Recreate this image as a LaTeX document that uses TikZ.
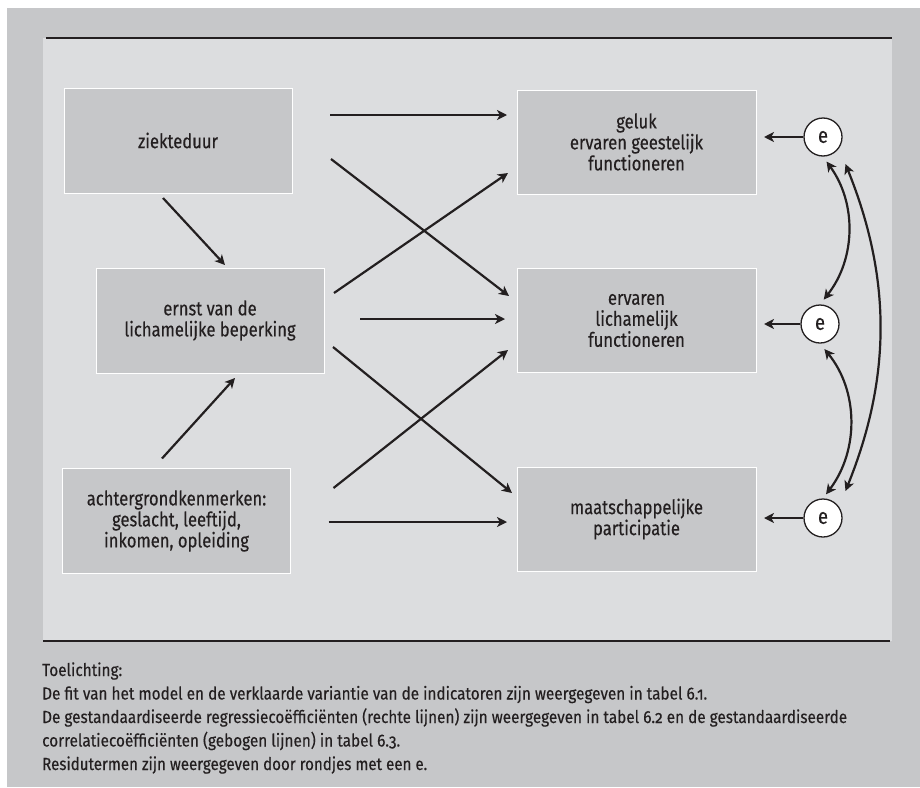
\documentclass[tikz,border=0pt]{standalone}
\usepackage{fontspec}
\usepackage{graphicx}
\setmainfont{Fira Sans}[FakeStretch=0.83,FakeBold=0.3,Numbers=OldStyle]
\usetikzlibrary{arrows.meta,calc}
\definecolor{outergray}{RGB}{198,199,201}
\definecolor{innergray}{RGB}{220,221,223}
\definecolor{boxgray}{RGB}{198,199,201}
\definecolor{ink}{RGB}{35,31,32}
\newcommand{\capline}[2]{\resizebox{#1pt}{\height}{#2}}
\tikzset{
  every node/.style={text=ink},
  box/.style={draw=white, line width=1pt, fill=boxgray, inner sep=0pt, outer sep=0pt,
    align=center, font=\fontsize{20}{21}\selectfont},
  lbox/.style={box, minimum width=228pt, minimum height=105pt},
  rbox/.style={box, minimum width=239pt, minimum height=104pt},
  ecirc/.style={circle, draw=ink, fill=white, line width=1.3pt, minimum size=38pt, inner sep=0pt,
    font=\fontsize{22}{22}\selectfont},
  arr/.style={draw=ink, line width=2.2pt, -{Stealth[length=10pt,width=10pt,inset=2.8pt]}},
  darr/.style={draw=ink, line width=2.2pt, {Stealth[length=10pt,width=10pt,inset=2.8pt]}-{Stealth[length=10pt,width=10pt,inset=2.8pt]}},
  rule/.style={draw=ink, line width=1.3pt},
  captext/.style={anchor=base west, inner sep=0pt, font=\fontsize{17.5}{23.5}\selectfont}
}
\begin{document}
\begin{tikzpicture}[x=1pt,y=-1pt]
\useasboundingbox (0,0) rectangle (920,787);
\fill[white] (0,0) rectangle (920,787);
\fill[outergray] (7,8) rectangle (920,787);
\fill[innergray] (43,38) rectangle (892,641);
\coordinate (tl) at (46,38); \coordinate (tr) at (892,38);
\coordinate (bl) at (43,641); \coordinate (br) at (890,641);
\draw[rule] (tl) -- (tr);
\draw[rule] (bl) -- (br);

\node[lbox] (zd) at (178,140.5) {ziekteduur};
\node[lbox] (ernst) at (210,320.5) {ernst van de\\lichamelijke beperking};
\node[lbox] (achter) at (176.5,521) {achtergrondkenmerken:\\geslacht, leeftijd,\\inkomen, opleiding};
\node[rbox] (geluk) at (636.5,142) {geluk\\ervaren geestelijk\\functioneren};
\node[rbox] (ervaren) at (636.5,320.5) {ervaren\\lichamelijk\\functioneren};
\node[rbox] (maat) at (636.5,519) {maatschappelijke\\participatie};

\node[ecirc] (e1) at (823,137) {e};
\node[ecirc] (e2) at (820,324) {e};
\node[ecirc] (e3) at (823,518) {e};

% straight paths
\draw[arr] ($(zd.east)+(38,-25.5)$) -- ($(geluk.west)+(-10,-27)$);
\draw[arr] ($(zd.east)+(39,18.5)$) -- ($(ervaren.west)+(-8,-24.5)$);
\draw[arr] ($(ernst.east)+(10,-27.5)$) -- ($(geluk.west)+(-9,31)$);
\draw[arr] ($(ernst.east)+(36,-1.5)$) -- ($(ervaren.west)+(-12,-1.5)$);
\draw[arr] ($(ernst.east)+(9,26.5)$) -- ($(maat.west)+(-5,-26)$);
\draw[arr] ($(achter.east)+(43,-33)$) -- ($(ervaren.west)+(-9,29.5)$);
\draw[arr] ($(achter.east)+(38,1)$) -- ($(maat.west)+(-10,3)$);
\draw[arr] ($(zd.south)+(-15,5)$) -- ($(ernst.north)+(15,-3)$);
\draw[arr] ($(achter.north)+(-14.5,-10)$) -- ($(ernst.south)+(25,5)$);

% residuals
\draw[arr, shorten >=8pt] (e1.west) -- (e1.west -| geluk.east);
\draw[arr, shorten >=8pt] (e2.west) -- (e2.west -| ervaren.east);
\draw[arr, shorten >=8pt] (e3.west) -- (e3.west -| maat.east);

% correlations
\draw[darr, shorten <=6pt, shorten >=6pt] (e1.south) to[bend left=37] (e2.north);
\draw[darr, shorten <=7pt, shorten >=5pt] (e2.south) to[bend left=38] (e3.north);
\draw[darr, shorten <=17pt, shorten >=17pt] (e1.-35) to[bend left=22] (e3.35);

% caption
\node[captext] (cap1) at (42,676) {\capline{80}{Toelichting:}};
\node[captext] (cap2) at (42,699.5) {\capline{665}{De fit van het model en de verklaarde variantie van de indicatoren zijn weergegeven in tabel 6.1.}};
\node[captext] (cap3) at (42,723) {\capline{805}{De gestandaardiseerde regressiecoëfficiënten (rechte lijnen) zijn weergegeven in tabel 6.2 en de gestandaardiseerde}};
\node[captext] (cap4) at (42,746.5) {\capline{358}{correlatiecoëfficiënten (gebogen lijnen) in tabel 6.3.}};
\node[captext] (cap5) at (42,770) {\capline{385}{Residutermen zijn weergegeven door rondjes met een e.}};
\end{tikzpicture}
\end{document}
